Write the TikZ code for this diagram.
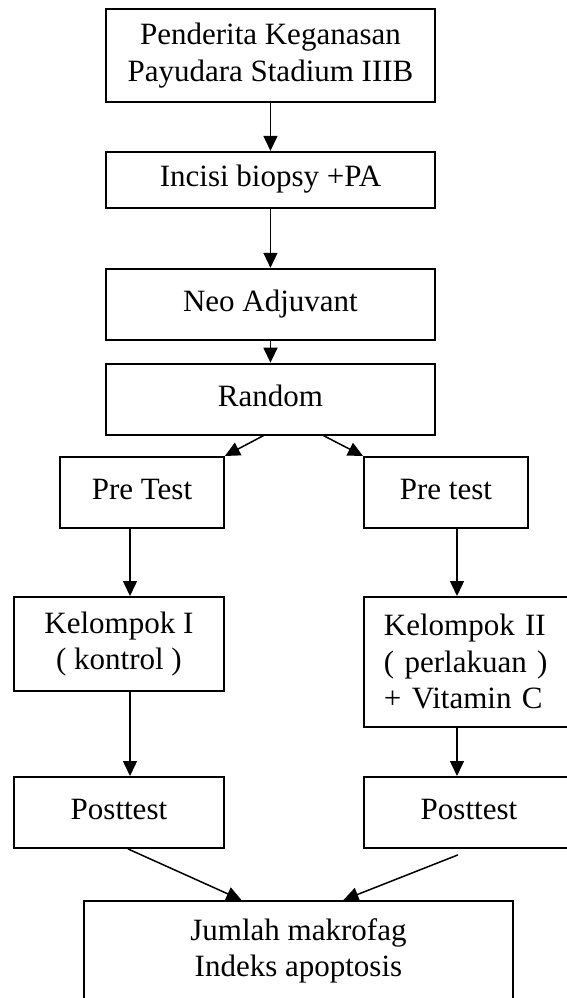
\documentclass[tikz,border=0pt]{standalone}
\usepackage{fontspec}
\setmainfont{Liberation Serif}
\usetikzlibrary{arrows.meta,positioning}

\begin{document}
\begin{tikzpicture}[x=1pt, y=-1pt, >={Triangle[length=15pt,width=14pt]}]

	\tikzstyle{box}=[draw, line width=1.9pt, rectangle, inner sep=0pt,
	align=center, font=\fontsize{31}{36.5}\selectfont]
	\tikzstyle{one}=[text height=21pt, text depth=7pt]
	\tikzstyle{arr}=[->, line width=1.5pt]

	\useasboundingbox (0,0) rectangle (567,998);
	\clip (0,0) rectangle (567,998);

	% Main chain
	\node[box, anchor=north west, minimum width=329pt, minimum height=93pt]
	(pend) at (105,8) {Penderita Keganasan\\Payudara Stadium IIIB};
	\node[box, one, minimum width=329pt, minimum height=56pt, below=48pt of pend]
	(incisi) {Incisi biopsy +PA};
	\node[box, one, minimum width=329pt, minimum height=71pt, below=59pt of incisi]
	(neo) {Neo Adjuvant};
	\node[box, one, minimum width=329pt, minimum height=71pt, below=22pt of neo]
	(random) {Random};

	% Two groups
	\node[box, one, anchor=north west, minimum width=164pt, minimum height=71pt]
	(preA) at (59,456) {Pre Test};
	\node[box, one, anchor=north west, minimum width=164pt, minimum height=71pt]
	(preB) at (363,456) {Pre test};
	\node[box, anchor=north west, minimum width=210pt, minimum height=94pt]
	(kelA) at (13,596) {Kelompok I\\( kontrol )};
	\node[box, anchor=north west, align=left, text width=180pt, inner xsep=20pt,
	minimum height=130pt]
	(kelB) at (363,596) {Kelompok II\\( perlakuan )\\+ Vitamin C};
	\node[box, one, anchor=north west, minimum width=220pt, minimum height=71pt]
	(postB) at (363,776) {\hspace*{-10pt}Posttest};
	\node[box, one, anchor=north west, minimum width=210pt, minimum height=71pt]
	(postA) at (13,776) {Posttest};

	% Result
	\node[box, anchor=north west, minimum width=429pt, minimum height=100pt]
	(hasil) at (83,900) {Jumlah makrofag\\Indeks apoptosis};

	\coordinate (colA) at (130,0);
	\coordinate (colB) at (457,0);

	% Flow arrows
	\draw[arr] (pend) -- (incisi);
	\draw[arr] (incisi) -- (neo);
	\draw[arr] (neo) -- (random);
	\draw[arr] ([xshift=-7pt]random.south) -- (preA.north east);
	\draw[arr] ([xshift=53pt]random.south) -- (preB.north west);
	\draw[arr] (preA.south -| colA) -- (kelA.north -| colA);
	\draw[arr] (kelA.south -| colA) -- (postA.north -| colA);
	\draw[arr] (preB.south -| colB) -- (kelB.north -| colB);
	\draw[arr] (kelB.south -| colB) -- (postB.north -| colB);
	\draw[arr] ([xshift=9pt]postA.south) -- ([xshift=-57pt]hasil.north);
	\draw[arr] ([xshift=-16pt,yshift=-6pt]postB.south) -- ([xshift=45pt]hasil.north);

\end{tikzpicture}
\end{document}
